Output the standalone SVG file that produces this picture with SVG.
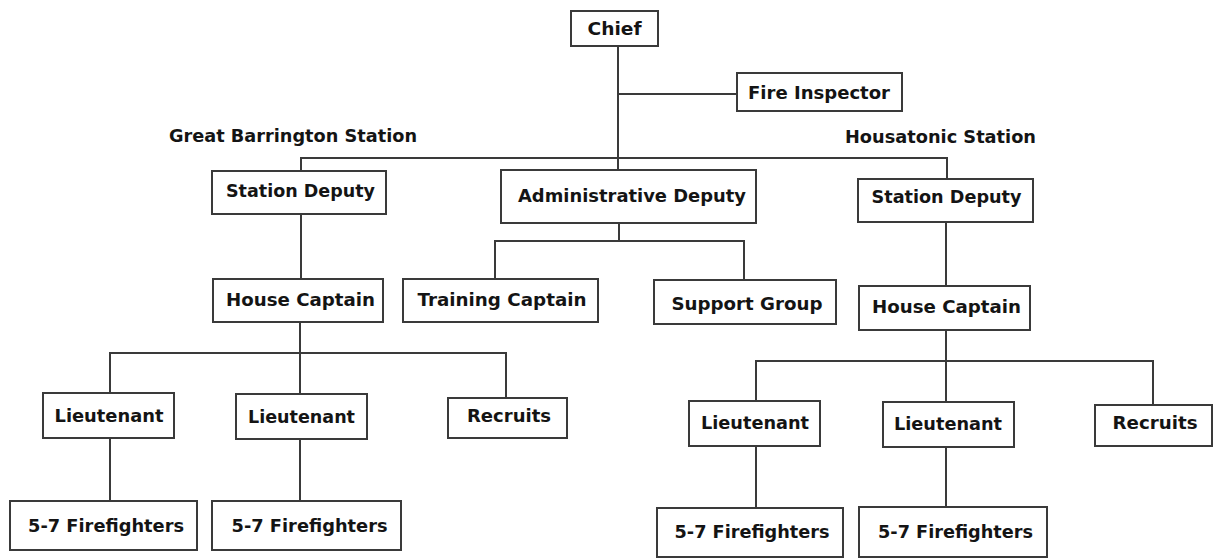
<svg xmlns="http://www.w3.org/2000/svg" width="1222" height="559" viewBox="0 0 1222 559">
  <style>
    .box { fill: #ffffff; stroke: #3a3a3a; stroke-width: 2; }
    .wire { fill: none; stroke: #3a3a3a; stroke-width: 2; }
    .lbl { font-family: "DejaVu Sans", "Liberation Sans", sans-serif; font-weight: bold; font-size: 18px; fill: #141414; text-anchor: middle; }
  </style>
  <rect width="1222" height="559" fill="#ffffff"/>

  <!-- reporting lines -->
  <g id="connectors">
    <path class="wire" d="M618 46 V170"/>
    <path class="wire" d="M618 94 H737"/>
    <path class="wire" d="M301 171 V158 H947 V179"/>
    <path class="wire" d="M301 214 V279"/>
    <path class="wire" d="M946 222 V286"/>
    <path class="wire" d="M619 223 V241"/>
    <path class="wire" d="M495 279 V241 H744 V280"/>
    <path class="wire" d="M300 322 V394"/>
    <path class="wire" d="M110 393 V353 H506 V398"/>
    <path class="wire" d="M110 438 V501"/>
    <path class="wire" d="M300 439 V501"/>
    <path class="wire" d="M946 330 V402"/>
    <path class="wire" d="M756 401 V361 H1153 V405"/>
    <path class="wire" d="M756 446 V508"/>
    <path class="wire" d="M946 447 V507"/>
  </g>

  <!-- station headings -->
  <text id="label-great-barrington" class="lbl" x="293" y="142" textLength="248" lengthAdjust="spacingAndGlyphs">Great Barrington Station</text>
  <text id="label-housatonic" class="lbl" x="940.5" y="143" textLength="191" lengthAdjust="spacingAndGlyphs">Housatonic Station</text>

  <g id="chief">
    <rect class="box" x="571" y="11" width="87" height="35"/>
    <text class="lbl" x="614.5" y="35" textLength="54" lengthAdjust="spacingAndGlyphs">Chief</text>
  </g>
  <g id="fire-inspector">
    <rect class="box" x="737" y="73" width="165" height="38"/>
    <text class="lbl" x="819" y="99" textLength="142" lengthAdjust="spacingAndGlyphs">Fire Inspector</text>
  </g>

  <g id="gb-station-deputy">
    <rect class="box" x="212" y="171" width="174" height="43"/>
    <text class="lbl" x="300.5" y="197" textLength="149" lengthAdjust="spacingAndGlyphs">Station Deputy</text>
  </g>
  <g id="administrative-deputy">
    <rect class="box" x="501" y="170" width="255" height="53"/>
    <text class="lbl" x="632" y="201.5" textLength="228" lengthAdjust="spacingAndGlyphs">Administrative Deputy</text>
  </g>
  <g id="hs-station-deputy">
    <rect class="box" x="858" y="179" width="175" height="43"/>
    <text class="lbl" x="946.5" y="202.5" textLength="150" lengthAdjust="spacingAndGlyphs">Station Deputy</text>
  </g>

  <g id="gb-house-captain">
    <rect class="box" x="213" y="279" width="170" height="43"/>
    <text class="lbl" x="300.5" y="305.5" textLength="149" lengthAdjust="spacingAndGlyphs">House Captain</text>
  </g>
  <g id="training-captain">
    <rect class="box" x="403" y="279" width="195" height="43"/>
    <text class="lbl" x="502" y="306" textLength="169" lengthAdjust="spacingAndGlyphs">Training Captain</text>
  </g>
  <g id="support-group">
    <rect class="box" x="654" y="280" width="182" height="44"/>
    <text class="lbl" x="747" y="310" textLength="151" lengthAdjust="spacingAndGlyphs">Support Group</text>
  </g>
  <g id="hs-house-captain">
    <rect class="box" x="859" y="286" width="171" height="44"/>
    <text class="lbl" x="946.5" y="312.5" textLength="149" lengthAdjust="spacingAndGlyphs">House Captain</text>
  </g>

  <g id="gb-lieutenant-1">
    <rect class="box" x="43" y="393" width="131" height="45"/>
    <text class="lbl" x="109" y="422" textLength="109" lengthAdjust="spacingAndGlyphs">Lieutenant</text>
  </g>
  <g id="gb-lieutenant-2">
    <rect class="box" x="236" y="394" width="131" height="45"/>
    <text class="lbl" x="301.5" y="423" textLength="107" lengthAdjust="spacingAndGlyphs">Lieutenant</text>
  </g>
  <g id="gb-recruits">
    <rect class="box" x="448" y="398" width="119" height="40"/>
    <text class="lbl" x="509" y="422" textLength="84" lengthAdjust="spacingAndGlyphs">Recruits</text>
  </g>
  <g id="gb-firefighters-1">
    <rect class="box" x="10" y="501" width="187" height="49"/>
    <text class="lbl" x="106" y="531.5" textLength="156" lengthAdjust="spacingAndGlyphs">5-7 Firefighters</text>
  </g>
  <g id="gb-firefighters-2">
    <rect class="box" x="212" y="501" width="189" height="49"/>
    <text class="lbl" x="309.5" y="532" textLength="156" lengthAdjust="spacingAndGlyphs">5-7 Firefighters</text>
  </g>

  <g id="hs-lieutenant-1">
    <rect class="box" x="689" y="401" width="131" height="45"/>
    <text class="lbl" x="755" y="429" textLength="108" lengthAdjust="spacingAndGlyphs">Lieutenant</text>
  </g>
  <g id="hs-lieutenant-2">
    <rect class="box" x="883" y="402" width="131" height="45"/>
    <text class="lbl" x="948" y="430" textLength="108" lengthAdjust="spacingAndGlyphs">Lieutenant</text>
  </g>
  <g id="hs-recruits">
    <rect class="box" x="1095" y="405" width="117" height="41"/>
    <text class="lbl" x="1155" y="429" textLength="85" lengthAdjust="spacingAndGlyphs">Recruits</text>
  </g>
  <g id="hs-firefighters-1">
    <rect class="box" x="657" y="508" width="186" height="49"/>
    <text class="lbl" x="752" y="538" textLength="155" lengthAdjust="spacingAndGlyphs">5-7 Firefighters</text>
  </g>
  <g id="hs-firefighters-2">
    <rect class="box" x="859" y="507" width="188" height="50"/>
    <text class="lbl" x="955.5" y="538" textLength="155" lengthAdjust="spacingAndGlyphs">5-7 Firefighters</text>
  </g>
</svg>
